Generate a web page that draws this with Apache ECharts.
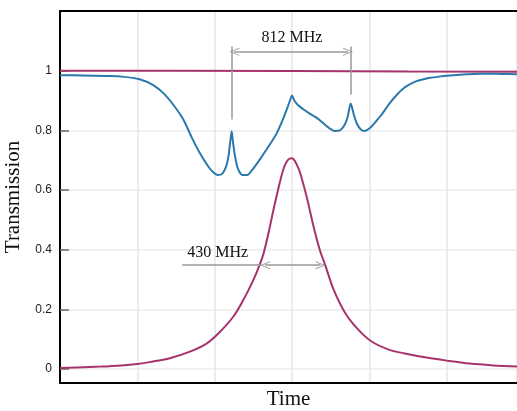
<!DOCTYPE html>
<html>
<head>
<meta charset="utf-8">
<script src="https://cdn.jsdelivr.net/npm/echarts@6/dist/echarts.min.js"></script>
<style>
  html, body { margin: 0; padding: 0; background: #fff; }
  #chart { width: 517px; height: 411px; }
</style>
</head>
<body>
<div id="chart"></div>
<script>
  // values (x in grid units, y = transmission)
  var yTicks = [0, 0.2, 0.4, 0.6, 0.8, 1];

  var reference = [[0, 1.0], [1.5, 1.0], [3, 0.999], [4.5, 0.997], [5.91, 0.996]];

  var cavity = [
    [0, 0.985], [0.3, 0.984], [0.6, 0.982], [0.8, 0.980], [1.03, 0.971],
    [1.21, 0.951], [1.34, 0.924], [1.47, 0.884], [1.6, 0.834], [1.7, 0.778],
    [1.81, 0.723], [1.92, 0.678], [1.98, 0.66], [2.04, 0.65], [2.1, 0.655],
    [2.15, 0.68], [2.18, 0.715], [2.205, 0.77], [2.22, 0.797], [2.235, 0.765],
    [2.26, 0.718], [2.3, 0.672], [2.36, 0.65], [2.42, 0.65], [2.5, 0.672],
    [2.57, 0.697], [2.63, 0.72], [2.72, 0.755], [2.8, 0.789], [2.88, 0.835],
    [2.94, 0.875], [2.98, 0.905], [3.0, 0.917], [3.03, 0.9], [3.08, 0.884],
    [3.16, 0.868], [3.23, 0.856], [3.3, 0.845], [3.36, 0.834], [3.43, 0.818],
    [3.49, 0.806], [3.55, 0.798], [3.62, 0.8], [3.68, 0.818], [3.72, 0.845],
    [3.76, 0.89], [3.8, 0.852], [3.84, 0.822], [3.89, 0.803], [3.94, 0.798],
    [4.0, 0.806], [4.08, 0.828], [4.16, 0.853], [4.27, 0.893], [4.36, 0.92],
    [4.44, 0.94], [4.52, 0.954], [4.61, 0.965], [4.7, 0.971], [4.79, 0.976],
    [4.9, 0.98], [5.0, 0.983], [5.26, 0.988], [5.43, 0.99], [5.7, 0.989],
    [5.91, 0.988]
  ];

  var peak = [
    [0, 0.003], [0.52, 0.008], [0.8, 0.012], [1.0, 0.017], [1.16, 0.023], [1.42, 0.036],
    [1.68, 0.058], [1.9, 0.086], [2.07, 0.125], [2.24, 0.175], [2.37, 0.231],
    [2.48, 0.287], [2.55, 0.328], [2.63, 0.385], [2.7, 0.46], [2.76, 0.533], [2.85, 0.633],
    [2.9, 0.678], [2.94, 0.698], [2.97, 0.705], [3.0, 0.706], [3.03, 0.700],
    [3.06, 0.686], [3.1, 0.662], [3.19, 0.577], [3.28, 0.477], [3.36, 0.399],
    [3.43, 0.348], [3.54, 0.265], [3.69, 0.187], [3.86, 0.131], [4.03, 0.092],
    [4.25, 0.065], [4.46, 0.052], [4.72, 0.039], [5.0, 0.028], [5.3, 0.018],
    [5.6, 0.012], [5.91, 0.008]
  ];

  // annotation positions in data units
  var splitMarks = { left: 2.22, right: 3.76, top: 1.081, leftEnd: 0.836, rightEnd: 0.92, arrowY: 1.063, textY: 1.111 };
  var widthMarks = { lead: 1.58, left: 2.59, right: 3.43, y: 0.348, textX: 2.04, textY: 0.389 };

  var grey = '#999999';
  var chevron = 'path://M5,0 L10,10 L8.8,10 L5,2.2 L1.2,10 L0,10 Z';
  var serif = '"Liberation Serif", "DejaVu Serif", serif';

  var myChart = echarts.init(document.getElementById('chart'));

  option = {
    animation: false,
    grid: { left: 60, right: 0, top: 11, bottom: 28, outerBoundsMode: 'none', containLabel: false },
    xAxis: [{
      type: 'value',
      min: 0,
      max: 5.91,
      interval: 1,
      name: 'Time',
      nameLocation: 'middle',
      nameGap: 6,
      nameTextStyle: { fontFamily: serif, fontSize: 21, color: '#111' },
      axisLine: { show: true, onZero: false, lineStyle: { color: '#000', width: 2 } },
      axisTick: { show: false },
      axisLabel: { show: false },
      splitLine: { show: true, lineStyle: { color: '#e6e6e6', width: 1.5 } }
    }, {
      type: 'value',
      position: 'top',
      min: 0,
      max: 5.91,
      axisLine: { show: true, onZero: false, lineStyle: { color: '#000', width: 2 } },
      axisTick: { show: false },
      axisLabel: { show: false },
      splitLine: { show: false }
    }],
    yAxis: {
      type: 'value',
      min: -0.047,
      max: 1.2,
      name: 'Transmission',
      nameLocation: 'middle',
      nameGap: 25,
      nameTextStyle: { fontFamily: serif, fontSize: 21, color: '#111' },
      axisLine: { show: true, onZero: false, lineStyle: { color: '#000', width: 2 } },
      axisTick: { show: true, inside: true, length: 9, customValues: yTicks, lineStyle: { color: '#666', width: 1.5 } },
      axisLabel: {
        customValues: yTicks,
        margin: 8,
        color: '#222',
        fontSize: 12,
        fontFamily: '"Liberation Sans", Arial, sans-serif',
        formatter: function (v) { return String(Math.round(v * 10) / 10); }
      },
      splitLine: { show: true, lineStyle: { color: '#ececec', width: 1.5 } }
    },
    series: [{
      name: 'reference',
      type: 'line',
      data: reference,
      showSymbol: false,
      lineStyle: { color: '#a8336c', width: 2 },
      z: 3
    }, {
      name: 'cavity',
      type: 'line',
      data: cavity,
      showSymbol: false,
      smooth: 0.25,
      lineStyle: { color: '#2b78ab', width: 2 },
      z: 3,
      markLine: {
        silent: true,
        symbol: 'none',
        label: { show: false },
        lineStyle: { color: grey, type: 'solid', width: 1.5 },
        data: [
          [{ coord: [splitMarks.left, splitMarks.top] }, { coord: [splitMarks.left, splitMarks.leftEnd] }],
          [{ coord: [splitMarks.right, splitMarks.top] }, { coord: [splitMarks.right, splitMarks.rightEnd] }],
          [{ coord: [splitMarks.left + 0.035, splitMarks.arrowY], symbol: chevron, symbolSize: [8, 10] },
           { coord: [splitMarks.right - 0.035, splitMarks.arrowY], symbol: chevron, symbolSize: [8, 10] }]
        ]
      },
      markPoint: {
        silent: true,
        symbol: 'circle',
        symbolSize: 0,
        label: { show: true, position: 'inside', fontFamily: serif, fontSize: 16, color: '#111', formatter: '{b}' },
        data: [{ name: '812 MHz', coord: [3.0, splitMarks.textY] }]
      }
    }, {
      name: 'peak',
      type: 'line',
      data: peak,
      showSymbol: false,
      smooth: 0.35,
      lineStyle: { color: '#a8336c', width: 2 },
      z: 3,
      markLine: {
        silent: true,
        symbol: 'none',
        label: { show: false },
        lineStyle: { color: grey, type: 'solid', width: 1.5 },
        data: [
          [{ coord: [widthMarks.lead, widthMarks.y] }, { coord: [widthMarks.left, widthMarks.y] }],
          [{ coord: [widthMarks.left + 0.06, widthMarks.y], symbol: chevron, symbolSize: [8, 10] },
           { coord: [widthMarks.right - 0.06, widthMarks.y], symbol: chevron, symbolSize: [8, 10] }]
        ]
      },
      markPoint: {
        silent: true,
        symbol: 'circle',
        symbolSize: 0,
        label: { show: true, position: 'inside', fontFamily: serif, fontSize: 16, color: '#111', formatter: '{b}' },
        data: [{ name: '430 MHz', coord: [widthMarks.textX, widthMarks.textY] }]
      }
    }]
  };

  myChart.setOption(option);
</script>
</body>
</html>
